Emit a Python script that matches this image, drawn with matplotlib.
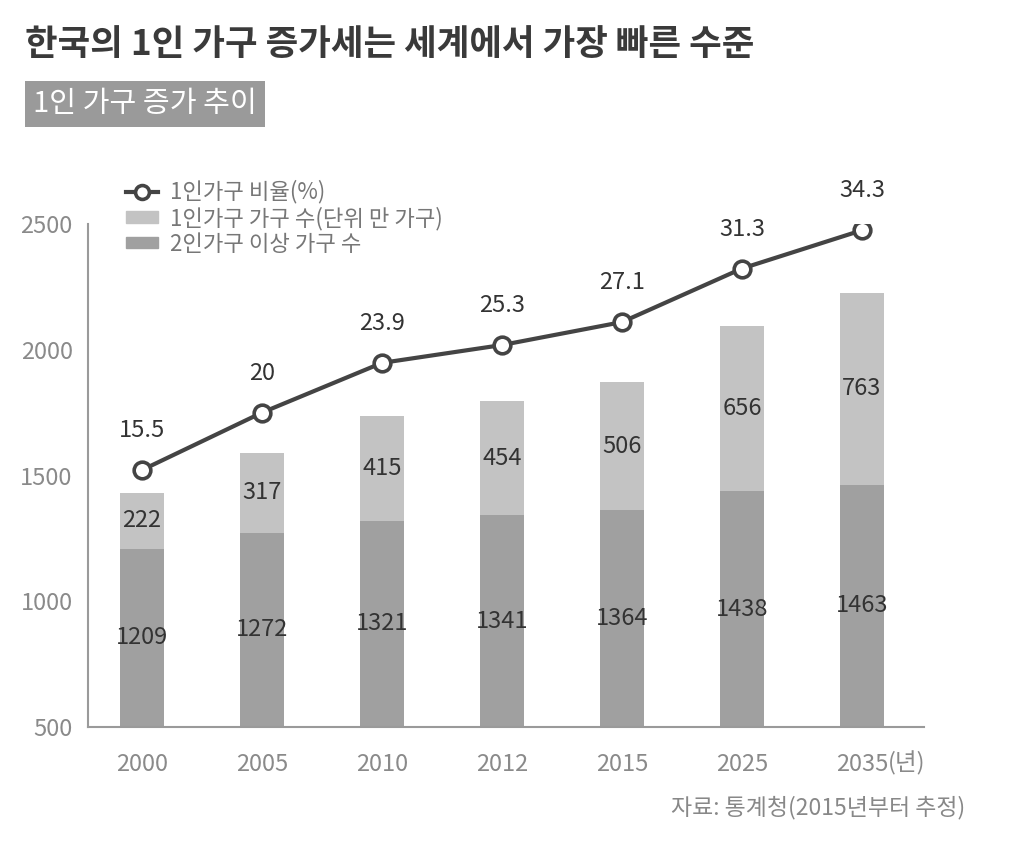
import matplotlib
matplotlib.use("Agg")
import matplotlib.pyplot as plt
from matplotlib.lines import Line2D
from matplotlib.patches import Patch
from matplotlib.transforms import ScaledTranslation, blended_transform_factory

plt.rcParams['font.family'] = ['Noto Sans CJK KR', 'DejaVu Sans']

years = ['2000', '2005', '2010', '2012', '2015', '2025', '2035']
multi_households = [1209, 1272, 1321, 1341, 1364, 1438, 1463]
single_households = [222, 317, 415, 454, 506, 656, 763]
single_ratio = [15.5, 20, 23.9, 25.3, 27.1, 31.3, 34.3]
yticks = [500, 1000, 1500, 2000, 2500]

title = '한국의 1인 가구 증가세는 세계에서 가장 빠른 수준'
subtitle = '1인 가구 증가 추이'
legend_labels = ['1인가구 비율(%)', '1인가구 가구 수(단위 만 가구)', '2인가구 이상 가구 수']
source = '자료: 통계청(2015년부터 추정)'
year_unit = '(년)'

DARK = '#a0a0a0'
LIGHT = '#c3c3c3'
LINE = '#444444'
AXIS = '#9a9a9a'
TICK = '#8a8a8a'
TXT = '#333333'

fig = plt.figure(figsize=(10.24, 8.59), dpi=100)
ax = fig.add_axes([88/1024, 1-727/859, (924-88)/1024, (727-224)/859])

x = list(range(len(years)))
base = 500
w = 0.36
bottom_heights = [v - base for v in multi_households]
ax.bar(x, bottom_heights, bottom=base, width=w, color=DARK, zorder=2)
ax.bar(x, single_households, bottom=multi_households, width=w, color=LIGHT, zorder=2)

ax.set_xlim(-0.45, 6.517)
ax.set_ylim(500, 2500)
ax.set_yticks(yticks)
ax.set_xticks(x)
ax.set_xticklabels(years)
for s in ['top', 'right']:
    ax.spines[s].set_visible(False)
for s in ['left', 'bottom']:
    ax.spines[s].set_color(AXIS)
    ax.spines[s].set_linewidth(1.5)
ax.tick_params(axis='both', length=0, labelsize=17, colors=TICK)
ax.tick_params(axis='y', pad=11)
ax.tick_params(axis='x', pad=19)

# year unit after last tick
tr = (blended_transform_factory(ax.transData, ax.transAxes)
      + ScaledTranslation(0.26, -0.365, fig.dpi_scale_trans))
ax.text(x[-1], 0, year_unit, transform=tr, ha='left', va='center', fontsize=17, color=TICK)

# bar labels
for xi, m, s in zip(x, multi_households, single_households):
    ax.text(xi, (base + m) / 2, str(m), ha='center', va='center', fontsize=17, color=TXT, zorder=4)
    ax.text(xi, m + s / 2, str(s), ha='center', va='center', fontsize=17, color=TXT, zorder=4)

# ratio line on twin axis
ax2 = ax.twinx()
ax2.set_ylim(-4.65, 34.79)
ax2.axis('off')
ax2.plot(x, single_ratio, color=LINE, lw=3, marker='o', ms=12, mfc='white',
         mec=LINE, mew=2.6, zorder=5)
for xi, r in zip(x, single_ratio):
    ax2.annotate(f'{r:g}', (xi, r), xytext=(0, 20), textcoords='offset points',
                 ha='center', va='bottom', fontsize=17, color=TXT)

# legend
handles = [
    Line2D([], [], color=LINE, lw=3, marker='o', ms=10, mfc='white', mec=LINE, mew=2.6),
    Patch(color=LIGHT),
    Patch(color=DARK),
]
fig.legend(handles, legend_labels, loc='upper left', bbox_to_anchor=(126/1024, 1-180/859),
           frameon=False, fontsize=16, labelcolor='#777777', handlelength=1.45,
           handleheight=0.42, handletextpad=0.55, labelspacing=0.12, borderpad=0, borderaxespad=0)

# titles
fig.text(25/1024, 1-45/859, title, fontsize=25.5, fontweight='bold', color='#3a3a3a',
         ha='left', va='center')
fig.text(33/1024, 1-104/859, subtitle, fontsize=21, color='white', ha='left', va='center',
         bbox=dict(boxstyle='square,pad=0.28', facecolor='#9a9a9a', edgecolor='none'))

fig.text(965/1024, 1-808/859, source, fontsize=16.5, color='#888888', ha='right', va='center')

fig.savefig('out.png', dpi=100)
